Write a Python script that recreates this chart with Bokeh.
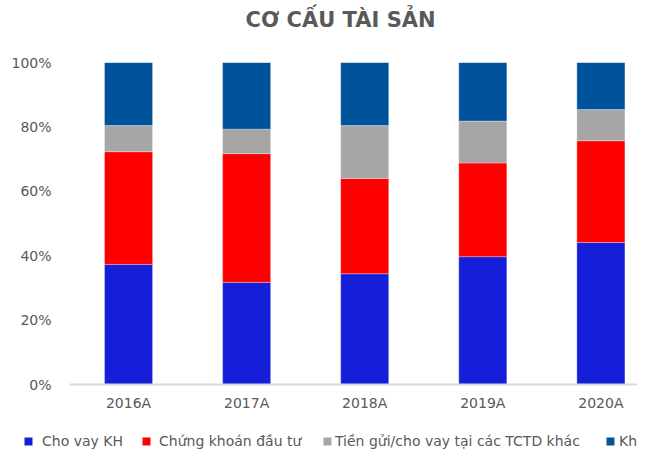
from bokeh.plotting import figure
from bokeh.layouts import column
from bokeh.models import Range1d, FixedTicker, Legend, LegendItem, Title, NumeralTickFormatter
from bokeh.embed import file_html
from bokeh.resources import INLINE

years = ["2016A", "2017A", "2018A", "2019A", "2020A"]
cho_vay_kh = [0.373, 0.317, 0.344, 0.397, 0.441]
chung_khoan = [0.350, 0.400, 0.296, 0.291, 0.316]
tien_gui = [0.081, 0.076, 0.164, 0.130, 0.097]
khac = [0.196, 0.207, 0.196, 0.182, 0.146]
y_ticks = [0, 0.2, 0.4, 0.6, 0.8, 1.0]
series_names = ["Cho vay KH", "Chứng khoán đầu tư", "Tiền gửi/cho vay tại các TCTD khác", "Khác"]
colors = ["#151FDA", "#FF0000", "#A6A6A6", "#00529B"]

FONT = "DejaVu Sans"
TXT = "#595959"

x = list(range(len(years)))

p = figure(width=637, height=415, output_backend="svg", toolbar_location=None,
           x_range=Range1d(-0.5, 4.31), y_range=Range1d(0, 1),
           min_border_left=69, min_border_right=0, min_border_top=62, min_border_bottom=31)
p.outline_line_color = None
p.xgrid.grid_line_color = None
p.ygrid.grid_line_color = None

series = [cho_vay_kh, chung_khoan, tien_gui, khac]
bottoms = [0.0] * len(years)
for vals, col in zip(series, colors):
    tops = [b + v for b, v in zip(bottoms, vals)]
    p.vbar(x=x, bottom=bottoms, top=tops, width=0.407, fill_color=col,
           line_color="white", line_alpha=0.5, line_width=0.6)
    bottoms = tops

p.xaxis.ticker = FixedTicker(ticks=x)
p.xaxis.major_label_overrides = {i: y for i, y in enumerate(years)}
p.xaxis.major_tick_line_color = None
p.xaxis.minor_tick_line_color = None
p.xaxis.axis_line_color = "#D9D9D9"
p.xaxis.axis_line_width = 2
p.xaxis.major_label_standoff = 4
p.xaxis.major_label_text_font = FONT
p.xaxis.major_label_text_font_size = "14px"
p.xaxis.major_label_text_color = TXT

p.yaxis.ticker = FixedTicker(ticks=y_ticks)
p.yaxis.formatter = NumeralTickFormatter(format="0%")
p.yaxis.major_tick_line_color = None
p.yaxis.minor_tick_line_color = None
p.yaxis.axis_line_color = None
p.yaxis.major_label_standoff = 12
p.yaxis.major_label_text_font = FONT
p.yaxis.major_label_text_font_size = "14px"
p.yaxis.major_label_text_color = TXT

# spacer between plot frame and title, then the title itself
spacer = Title(text=" ", text_font_size="1px", standoff=28, text_color="white")
p.add_layout(spacer, "above")
title = Title(text="CƠ CẤU TÀI SẢN", align="left", offset=176, standoff=0,
              text_font=FONT, text_font_size="21px", text_font_style="bold",
              text_color=TXT)
p.add_layout(title, "above")

# legend strip below the chart
lg = figure(width=637, height=35, output_backend="svg", toolbar_location=None,
            x_range=Range1d(0, 1), y_range=Range1d(0, 1),
            x_axis_location=None, y_axis_location=None,
            min_border=0, min_border_left=0, min_border_right=0, min_border_top=0, min_border_bottom=0)
lg.frame_align = False
lg.outline_line_color = None
lg.xgrid.grid_line_color = None
lg.ygrid.grid_line_color = None

legend_x = [23, 141, 322, 605]
legend_standoff = [9, 8, 3, 4]
for name, col, lx, ls in zip(series_names, colors, legend_x, legend_standoff):
    r = lg.vbar(x=[5], bottom=[0], top=[0], width=0.1, fill_color=col, line_color=None)
    leg = Legend(items=[LegendItem(label=name, renderers=[r])],
                 location=(lx, 1), orientation="horizontal",
                 glyph_width=10, glyph_height=10, label_standoff=ls,
                 padding=0, margin=0, border_line_color=None, background_fill_alpha=0,
                 label_text_font=FONT, label_text_font_size="14px", label_text_color=TXT)
    lg.add_layout(leg, "center")

open("out.html", "w").write(file_html(column(p, lg), INLINE))
